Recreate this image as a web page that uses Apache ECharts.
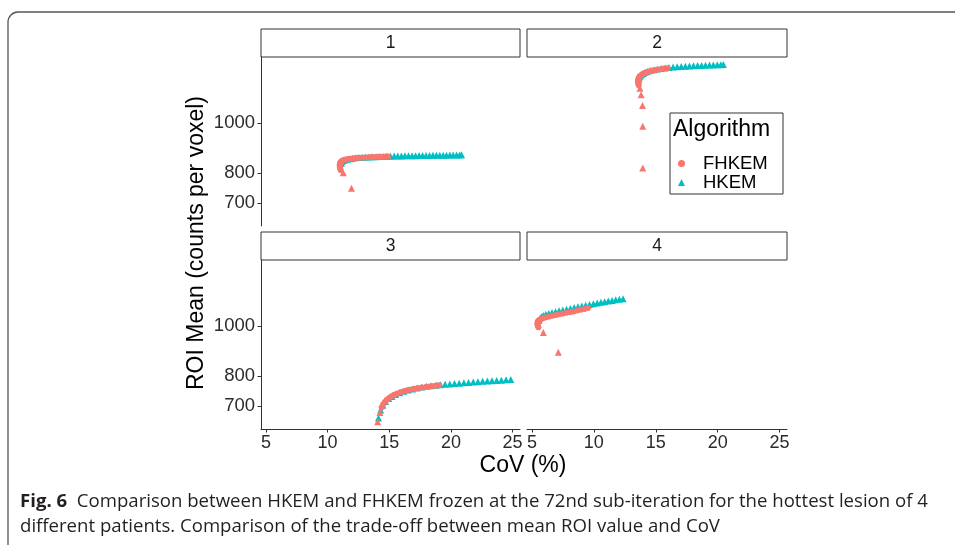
<!DOCTYPE html>
<html>
<head>
<meta charset="utf-8">
<script src="https://cdn.jsdelivr.net/npm/echarts@6/dist/echarts.min.js"></script>
<style>
html,body{margin:0;padding:0;background:#fff;}
#chart{width:955px;height:545px;}
</style>
</head>
<body>
<div id="chart"></div>
<script>
// ---------- DATA ----------
const panelNames = ['1', '2', '3', '4'];
const covTicks = [5, 10, 15, 20, 25];
const roiTicks = [700, 800, 1000];
const algorithms = ['FHKEM', 'HKEM'];

// Panel 1
const p1_HKEM_cov = [11.10,11.18,11.30,11.45,11.62,11.82,12.04,12.28,12.54,12.80,13.08,13.36,13.65,13.94,14.23,14.52,14.81,15.10,15.40,15.69,15.98,16.27,16.56,16.85,17.13,17.42,17.70,17.98,18.26,18.54,18.82,19.10,19.37,19.64,19.91,20.18,20.45,20.70,20.86];
const p1_HKEM_roi = [836,842,847,850,852,854,855.5,857,858,859,859.8,860.5,861,861.6,862,862.5,863,863.4,863.8,864.1,864.4,864.7,865,865.3,865.5,865.8,866,866.2,866.4,866.7,866.9,867.1,867.3,867.5,867.7,867.9,868.1,868.3,868.5];
const p1_FHKEM_cov = [11.05,11.00,10.98,10.99,11.02,11.08,11.16,11.26,11.38,11.52,11.68,11.86,12.06,12.28,12.52,12.77,13.03,13.30,13.58,13.86,14.14,14.42,14.70,14.90];
const p1_FHKEM_roi = [812,820,827,833,838,842,845,847.5,849.5,851,852.5,854,855,856,857,857.8,858.6,859.3,860,860.6,861.2,861.7,862.2,862.6];
const p1_FHKEM_early_cov = [11.94, 11.27];
const p1_FHKEM_early_roi = [748, 802];

// Panel 2
const p2_HKEM_cov = [13.62,13.66,13.74,13.85,13.99,14.16,14.36,14.60,14.86,15.14,15.44,15.75,16.07,16.40,16.73,17.06,17.39,17.72,18.05,18.38,18.70,19.02,19.34,19.65,19.96,20.25,20.46];
const p2_HKEM_roi = [1212,1224,1234,1243,1250,1256,1262,1267,1271,1275,1278,1281,1283.5,1285.5,1287.3,1289,1290.5,1291.8,1293,1294.2,1295.3,1296.3,1297.2,1298,1298.8,1299.5,1300];
const p2_FHKEM_cov = [13.62,13.58,13.57,13.58,13.62,13.68,13.76,13.86,13.98,14.12,14.28,14.46,14.66,14.88,15.12,15.38,15.66,15.95];
const p2_FHKEM_roi = [1186,1197,1207,1216,1224,1231,1237,1243,1248,1253,1257,1261,1265,1268,1271,1274,1277,1279];
const p2_FHKEM_early_cov = [13.95, 13.95, 13.93, 13.82, 13.72];
const p2_FHKEM_early_roi = [819, 987, 1083, 1136, 1170];

// Panel 3
const p3_HKEM_cov = [14.12,14.30,14.48,14.70,14.95,15.22,15.52,15.84,16.18,16.53,16.89,17.26,17.63,18.01,18.39,18.77,19.15,19.53,19.91,20.29,20.67,21.05,21.43,21.81,22.19,22.57,22.95,23.33,23.71,24.09,24.47,24.85];
const p3_HKEM_roi = [664,688,703,715,724,731,737.5,743,748,752.3,756,759.3,762.3,764.8,766.8,768.5,770,771.5,773,774.4,775.8,777.1,778.4,779.6,780.8,782,783.1,784.2,785.2,786.2,787.2,788.2];
const p3_FHKEM_cov = [14.38,14.50,14.64,14.80,14.98,15.18,15.40,15.64,15.90,16.17,16.45,16.74,17.04,17.34,17.65,17.96,18.27,18.58,18.88,19.05];
const p3_FHKEM_roi = [696,705,713,720,726,731.5,736.5,741,745,748.5,751.5,754.3,756.8,759,761,762.8,764.5,766,767.4,768.2];
const p3_FHKEM_early_cov = [14.06, 14.25];
const p3_FHKEM_early_roi = [653, 680];

// Panel 4
const p4_HKEM_cov = [5.56,5.64,5.76,5.92,6.12,6.36,6.62,6.90,7.19,7.49,7.79,8.10,8.41,8.72,9.03,9.34,9.65,9.96,10.27,10.57,10.87,11.17,11.47,11.77,12.06,12.36];
const p4_HKEM_roi = [1026,1036,1044,1050,1055,1059.5,1063.5,1067.5,1071.5,1075.5,1079.5,1083.5,1087.5,1091.5,1095.5,1099,1102.5,1106,1109.5,1113,1116.5,1119.5,1122.5,1125.5,1128.5,1131];
const p4_FHKEM_cov = [5.52,5.46,5.44,5.46,5.52,5.62,5.76,5.94,6.16,6.40,6.66,6.93,7.21,7.50,7.79,8.08,8.37,8.66,8.95,9.24,9.52];
const p4_FHKEM_roi = [996,1004,1012,1019,1025,1030,1034,1038,1041.5,1045,1048,1051.5,1055,1058.5,1062,1065.5,1069,1073,1077,1081,1085];
const p4_FHKEM_early_cov = [7.13, 5.92];
const p4_FHKEM_early_roi = [891, 973];

// ---------- BUILD ----------
const panels = [
  {h:[p1_HKEM_cov,p1_HKEM_roi], f:[p1_FHKEM_cov,p1_FHKEM_roi], e:[p1_FHKEM_early_cov,p1_FHKEM_early_roi]},
  {h:[p2_HKEM_cov,p2_HKEM_roi], f:[p2_FHKEM_cov,p2_FHKEM_roi], e:[p2_FHKEM_early_cov,p2_FHKEM_early_roi]},
  {h:[p3_HKEM_cov,p3_HKEM_roi], f:[p3_FHKEM_cov,p3_FHKEM_roi], e:[p3_FHKEM_early_cov,p3_FHKEM_early_roi]},
  {h:[p4_HKEM_cov,p4_HKEM_roi], f:[p4_FHKEM_cov,p4_FHKEM_roi], e:[p4_FHKEM_early_cov,p4_FHKEM_early_roi]}
];
const zip = (a, b) => a.map((v, i) => [v, b[i]]);

const COL_F = '#F8766D', COL_H = '#00BFC4';
const FONT = '"Liberation Sans", Arial, Helvetica, sans-serif';
const AXC = '#333333';

const gridPos = [
  {left:261, top:57, width:259, height:169},
  {left:527, top:57, width:260, height:169},
  {left:261, top:260, width:259, height:169},
  {left:527, top:260, width:260, height:169}
];

const grids = gridPos.map(g => Object.assign({containLabel:false}, g));
const xAxes = gridPos.map((g, i) => {
  const bottom = i >= 2;
  return {
    type:'value', gridIndex:i, min:4.6, max:25.6, show:true,
    axisLine:{show:bottom, lineStyle:{color:AXC, width:1}},
    axisTick:{show:bottom, length:3.5, lineStyle:{color:AXC}, customValues:covTicks},
    axisLabel:{show:bottom, customValues:covTicks, color:'#2b2b2b', fontSize:18, fontFamily:FONT, margin:5,
      hideOverlap:false, formatter:v => String(v)},
    splitLine:{show:false}
  };
});
const yAxes = gridPos.map((g, i) => {
  const left = (i % 2 === 0);
  return {
    type:'log', logBase:10, gridIndex:i, min:632, max:1345,
    axisLine:{show:left, lineStyle:{color:AXC, width:1}},
    axisTick:{show:left, length:3.5, lineStyle:{color:AXC}, customValues:roiTicks},
    axisLabel:{show:left, customValues:roiTicks, color:'#2b2b2b', fontSize:18.5, fontFamily:FONT, margin:6,
      formatter:v => String(Math.round(v))},
    splitLine:{show:false}, minorTick:{show:false}
  };
});

const series = [];
panels.forEach((p, i) => {
  series.push({name:'HKEM', type:'scatter', xAxisIndex:i, yAxisIndex:i, symbol:'triangle', symbolSize:7,
    itemStyle:{color:COL_H, opacity:1}, data:zip(p.h[0], p.h[1]), silent:true, z:2});
  series.push({name:'FHKEM', type:'scatter', xAxisIndex:i, yAxisIndex:i, symbol:'circle', symbolSize:6,
    itemStyle:{color:COL_F, opacity:1}, data:zip(p.f[0], p.f[1]), silent:true, z:3});
  series.push({name:'FHKEM', type:'scatter', xAxisIndex:i, yAxisIndex:i, symbol:'triangle', symbolSize:7,
    itemStyle:{color:COL_F, opacity:1}, data:zip(p.e[0], p.e[1]), silent:true, z:3});
});

const graphics = [];
// outer frame
graphics.push({type:'rect', shape:{x:8, y:12, width:1000, height:600, r:[10,0,0,0]},
  style:{fill:'none', stroke:'#555', lineWidth:1.3}, silent:true});
// strips
gridPos.forEach((g, i) => {
  const sy = g.top - 28;
  graphics.push({type:'rect', shape:{x:g.left, y:sy, width:g.width, height:28},
    style:{fill:'#fff', stroke:'#333', lineWidth:1}, silent:true});
  graphics.push({type:'text', x:g.left + g.width/2, y:sy + 14,
    style:{text:panelNames[i], fill:'#1a1a1a', font:'17.5px ' + FONT, align:'center', verticalAlign:'middle'}, silent:true});
});
// axis titles
graphics.push({type:'text', x:197, y:243, rotation:Math.PI/2,
  style:{text:'ROI Mean (counts per voxel)', fill:'#000', font:'23px ' + FONT, align:'center', verticalAlign:'middle'}, silent:true});
graphics.push({type:'text', x:523, y:466,
  style:{text:'CoV (%)', fill:'#000', font:'23px ' + FONT, align:'center', verticalAlign:'middle'}, silent:true});
// legend box and title
graphics.push({type:'rect', shape:{x:670, y:113, width:113, height:81},
  style:{fill:'#fff', stroke:'#333', lineWidth:1}, silent:true, z:5});
graphics.push({type:'text', x:673, y:130,
  style:{text:'Algorithm', fill:'#000', font:'23px ' + FONT, align:'left', verticalAlign:'middle'}, silent:true, z:6});
// caption
const CAPF = '"Open Sans", "Noto Sans", sans-serif';
graphics.push({type:'text', x:20, y:502,
  style:{text:'{b|Fig. 6}  Comparison between HKEM and FHKEM frozen at the 72nd sub-iteration for the hottest lesion of 4',
    fill:'#231f20', font:'18.6px ' + CAPF, verticalAlign:'middle',
    rich:{b:{fontWeight:'bold', fontSize:18.6, fontFamily:CAPF, fill:'#231f20'}}}, silent:true});
graphics.push({type:'text', x:20, y:527,
  style:{text:'different patients. Comparison of the trade-off between mean ROI value and CoV',
    fill:'#231f20', font:'18.6px ' + CAPF, verticalAlign:'middle'}, silent:true});

const legendBase = {
  orient:'vertical', left:678, padding:0, itemWidth:7, itemHeight:7, selectedMode:false, z:7,
  textStyle:{fontSize:18.5, fontFamily:FONT, color:'#000', padding:[0,0,0,13]}
};

const chart = echarts.init(document.getElementById('chart'), null, {renderer:'canvas'});
chart.setOption({
  animation:false,
  backgroundColor:'#fff',
  grid:grids, xAxis:xAxes, yAxis:yAxes, series:series,
  legend:[
    Object.assign({}, legendBase, {data:[algorithms[0]], top:154}),
    Object.assign({}, legendBase, {data:[algorithms[1]], top:173})
  ],
  graphic:{elements:graphics}
});
</script>
</body>
</html>
